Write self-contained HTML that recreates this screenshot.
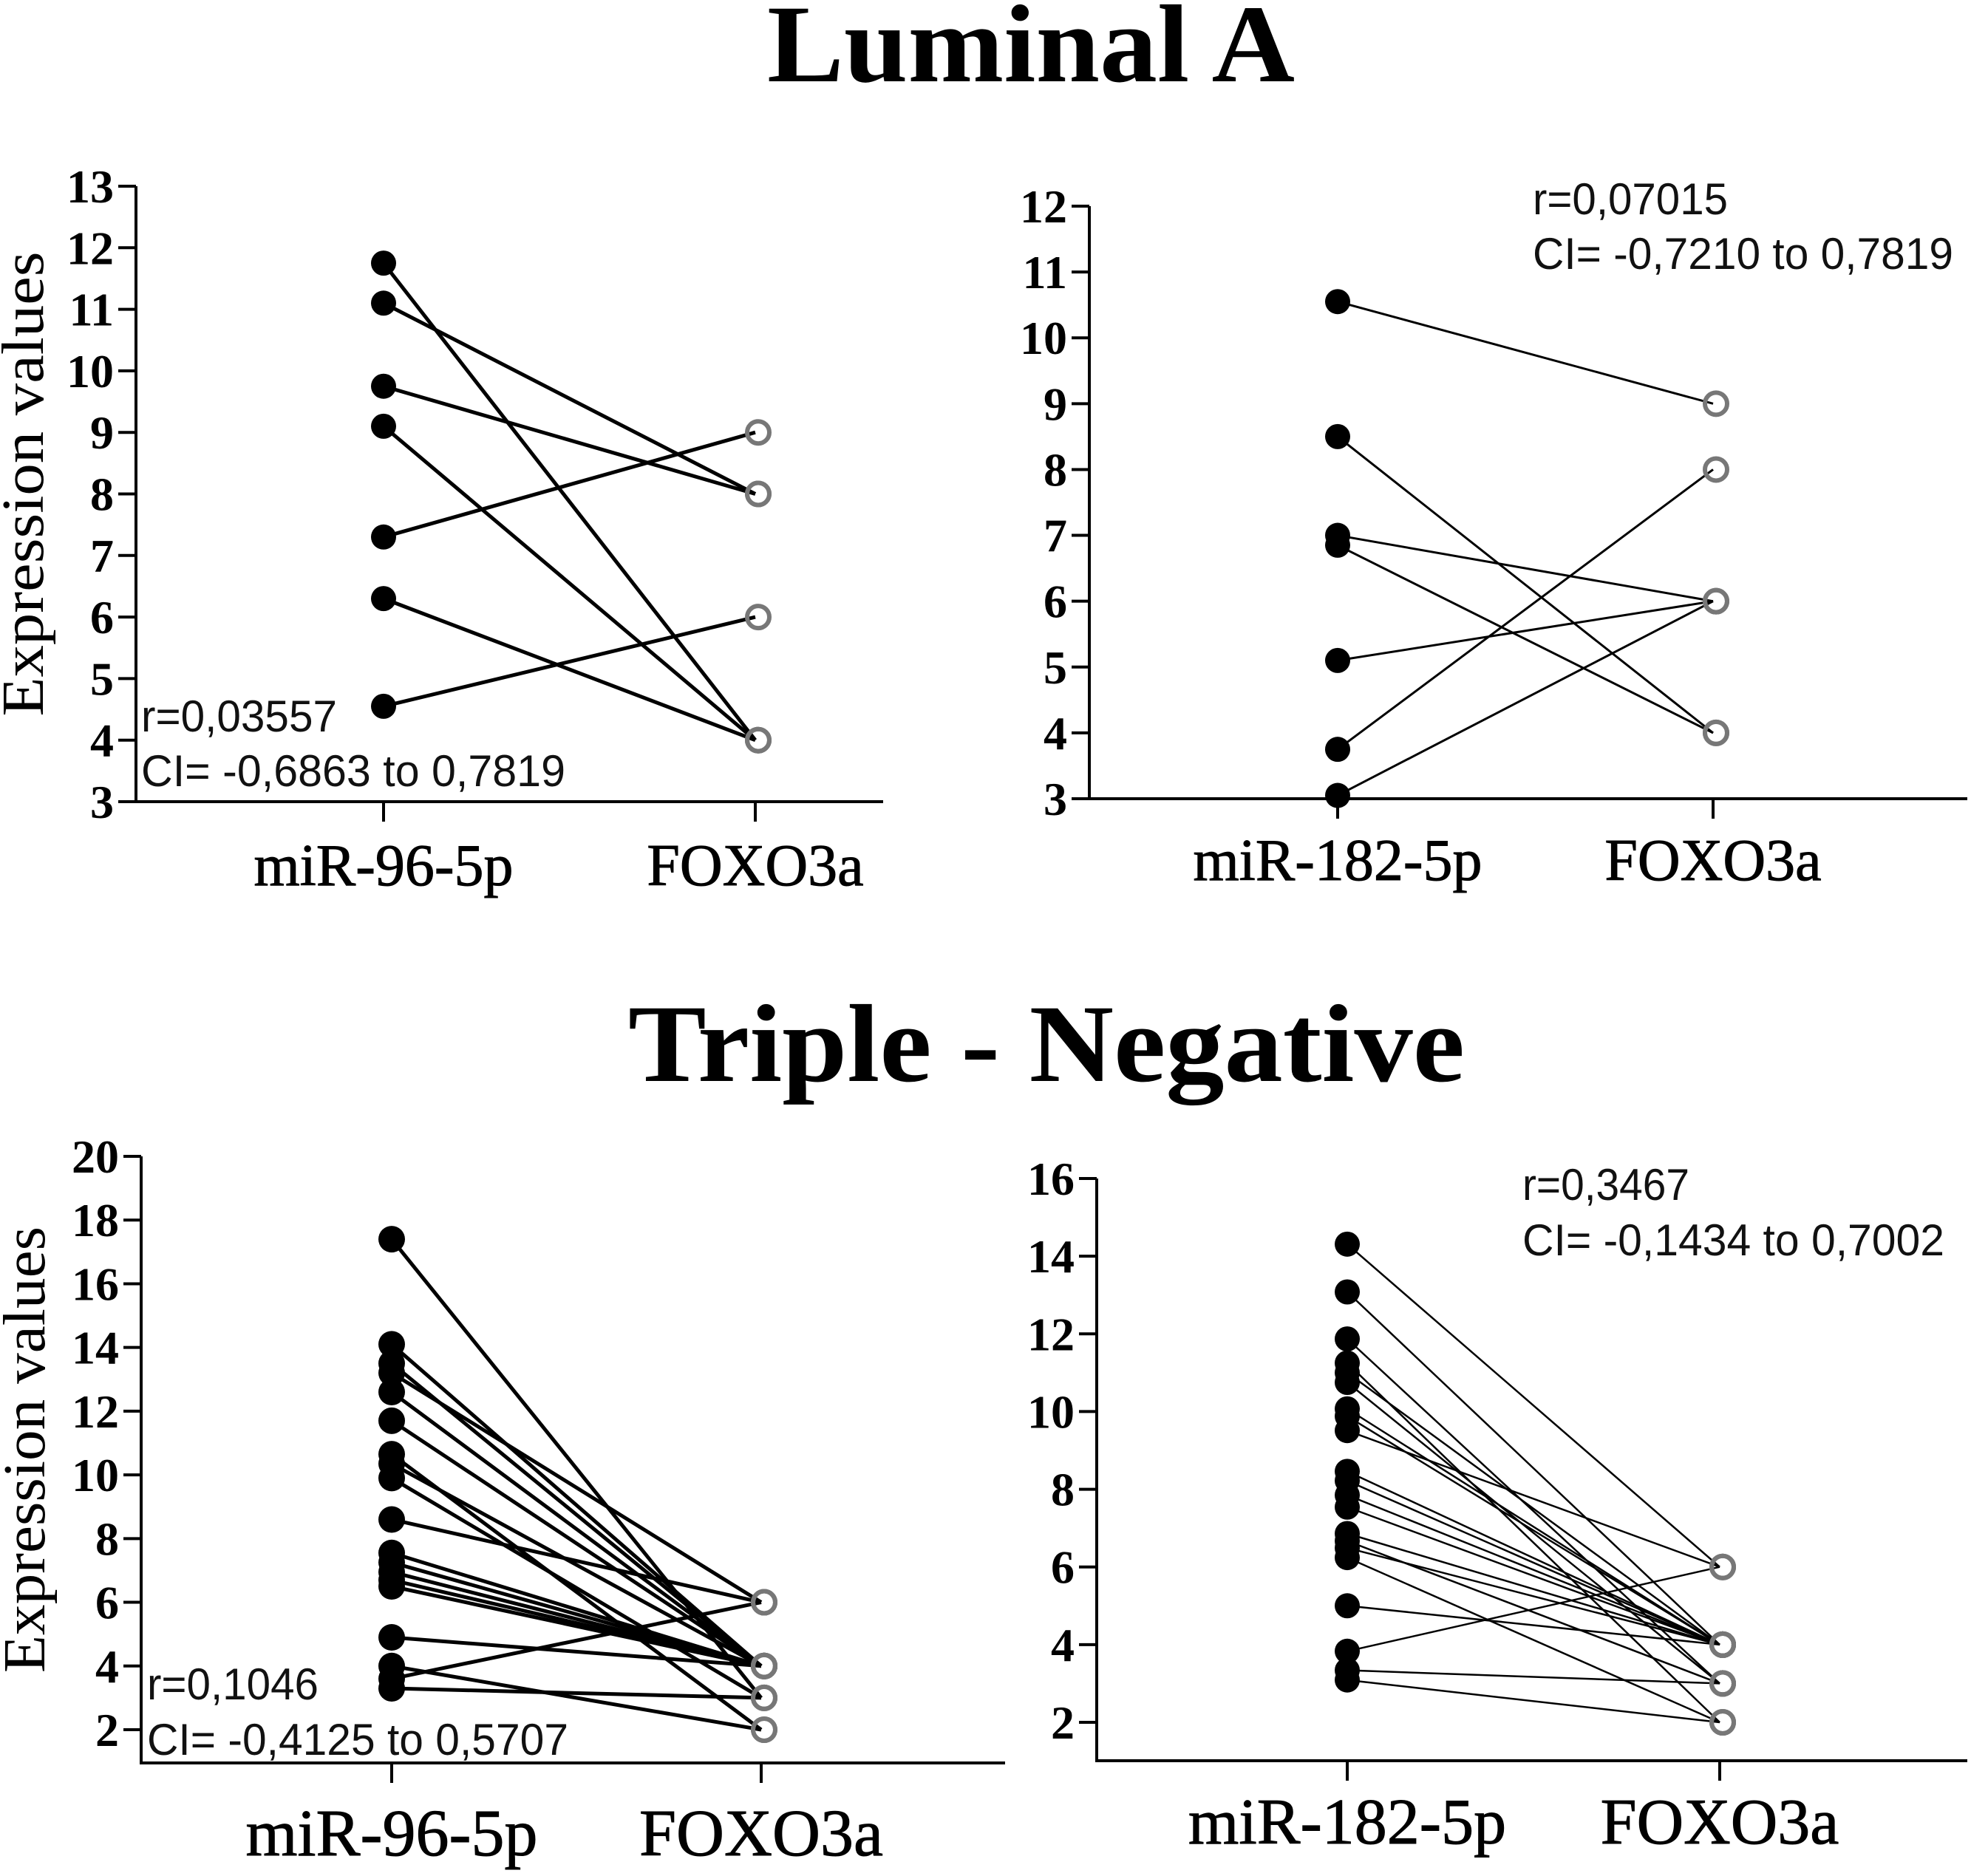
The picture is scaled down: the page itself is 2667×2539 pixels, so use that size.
<!DOCTYPE html>
<html><head><meta charset="utf-8"><title>Luminal A / Triple-Negative</title>
<style>html,body{margin:0;padding:0;background:#fff}svg{display:block}</style></head>
<body>
<svg id="chart" xmlns="http://www.w3.org/2000/svg" width="2667" height="2539" viewBox="0 0 2667 2539">
<rect width="2667" height="2539" fill="#fff"/>
<text x="1395" y="110" text-anchor="middle" font-family="Liberation Serif, serif" font-weight="bold" font-size="150" textLength="714" lengthAdjust="spacingAndGlyphs">Luminal A</text>
<text x="1416" y="1463" text-anchor="middle" font-family="Liberation Serif, serif" font-weight="bold" font-size="150" textLength="1132" lengthAdjust="spacingAndGlyphs">Triple - Negative</text>
</svg>
<script>
// Panel 1: Luminal A, miR-96-5p
const p1Categories = ['miR-96-5p', 'FOXO3a'];
const p1Mir = [11.75, 11.1, 9.75, 9.1, 7.3, 6.3, 4.55];
const p1Foxo = [4, 8, 8, 4, 9, 4, 6];
const p1Ticks = ['3','4','5','6','7','8','9','10','11','12','13'];
const p1Stats = ['r=0,03557', 'CI= -0,6863 to 0,7819'];
// Panel 2: Luminal A, miR-182-5p
const p2Categories = ['miR-182-5p', 'FOXO3a'];
const p2Mir = [10.55, 8.5, 7.0, 6.85, 5.1, 3.75, 3.05];
const p2Foxo = [9, 4, 6, 4, 6, 8, 6];
const p2Ticks = ['3','4','5','6','7','8','9','10','11','12'];
const p2Stats = ['r=0,07015', 'CI= -0,7210 to 0,7819'];
// Panel 3: Triple-negative, miR-96-5p
const p3Categories = ['miR-96-5p', 'FOXO3a'];
const p3Mir = [17.4, 14.1, 13.5, 13.2, 12.6, 11.7, 10.65, 10.35, 9.9, 8.6, 7.55, 7.25, 6.95, 6.7, 6.5, 4.9, 4.0, 3.6, 3.3];
const p3Foxo = [3, 4, 4, 6, 4, 4, 2, 4, 3, 6, 4, 4, 4, 4, 4, 4, 2, 6, 3];
const p3Ticks = ['2','4','6','8','10','12','14','16','18','20'];
const p3Stats = ['r=0,1046', 'CI= -0,4125 to 0,5707'];
// Panel 4: Triple-negative, miR-182-5p
const p4Categories = ['miR-182-5p', 'FOXO3a'];
const p4Mir = [14.31, 13.08, 11.87, 11.25, 11.0, 10.75, 10.07, 9.88, 9.51, 8.46, 8.22, 7.85, 7.54, 6.86, 6.67, 6.49, 6.24, 5.0, 3.83, 3.34, 3.09];
const p4Foxo = [6, 4, 3, 2, 4, 3, 4, 4, 6, 4, 4, 4, 4, 4, 3, 4, 2, 4, 6, 3, 2];
const p4Ticks = ['2','4','6','8','10','12','14','16'];
const p4Stats = ['r=0,3467', 'CI= -0,1434 to 0,7002'];

const NS = 'http://www.w3.org/2000/svg';
const svg = document.getElementById('chart');
function mk(tag, attrs, parent) {
  const e = document.createElementNS(NS, tag);
  for (const k in attrs) e.setAttribute(k, attrs[k]);
  (parent || svg).appendChild(e);
  return e;
}

function panel(id, cfg, cats, mir, foxo, ticks, stats) {
  const g = mk('g', {});
  
  
  const t0 = parseFloat(ticks[0]), t1 = parseFloat(ticks[ticks.length - 1]);
  const y = v => cfg.yBot + (v - t0) * (cfg.yTop - cfg.yBot) / (t1 - t0);
  const xc = [cfg.cx0, cfg.cx1];
  const ya = mk('line', {x1: cfg.ax, y1: cfg.yTop, x2: cfg.ax, y2: cfg.axisY, stroke: '#000', 'stroke-width': 4}, g);
  
  
  const xa = mk('line', {x1: cfg.ax - 2, y1: cfg.axisY, x2: cfg.axEnd, y2: cfg.axisY, stroke: '#000', 'stroke-width': 4}, g);
  
  
  ticks.forEach(t => {
    const v = parseFloat(t);
    const tk = mk('line', {x1: cfg.ax - 24, y1: y(v), x2: cfg.ax, y2: y(v), stroke: '#000', 'stroke-width': 4}, g);
    
    
    const tl = mk('text', {x: cfg.ax - 30, y: y(v) + 22, 'text-anchor': 'end', 'font-family': 'Liberation Serif, serif', 'font-weight': 'bold', 'font-size': 64}, g);
    tl.textContent = t;
    
    
  });
  cats.forEach((c, i) => {
    const tk = mk('line', {x1: xc[i], y1: cfg.axisY, x2: xc[i], y2: cfg.axisY + 27, stroke: '#000', 'stroke-width': 4}, g);
    
    
    const tl = mk('text', {x: xc[i], y: cfg.labY, 'text-anchor': 'middle', 'font-family': 'Liberation Serif, serif', 'font-size': cfg.labFs, stroke: '#000', 'stroke-width': 1}, g);
    tl.textContent = c;
    
    
  });
  if (cfg.title) {
    const yt = mk('text', {x: 0, y: 0, transform: `translate(${cfg.titleX},${cfg.titleY}) rotate(-90)`, 'text-anchor': 'middle', 'font-family': 'Liberation Serif, serif', 'font-size': 80, textLength: cfg.titleLen, lengthAdjust: 'spacingAndGlyphs'}, g);
    yt.textContent = 'Expression values';
    
    
  }
  mir.forEach((v, i) => {
    const l = mk('line', {x1: xc[0], y1: y(v), x2: xc[1], y2: y(foxo[i]), stroke: '#000', 'stroke-width': cfg.lw}, g);
    
    
  });
  mir.forEach(v => {
    const c = mk('circle', {cx: xc[0], cy: y(v), r: cfg.r, fill: '#000'}, g);
    
    
  });
  foxo.forEach(v => {
    const c = mk('circle', {cx: xc[1] + 4, cy: y(v), r: 15, fill: 'none', stroke: '#777', 'stroke-width': 6}, g);
    
    
  });
  stats.forEach((s, i) => {
    const t = mk('text', {x: cfg.sx, y: cfg.sy[i], 'font-family': 'Liberation Sans, sans-serif', 'font-size': 60, textLength: i ? cfg.ciLen : cfg.rLen, lengthAdjust: 'spacingAndGlyphs', fill: '#111'}, g);
    t.textContent = s;
    
    
  });
}

panel('panel-luminal-mir96', {ax: 184, axEnd: 1195, yTop: 252, yBot: 1085, axisY: 1085, cx0: 519, cx1: 1022, labY: 1198, labFs: 80, title: true, titleX: 58, titleY: 655, titleLen: 629, lw: 5, r: 17, sx: 191, sy: [990, 1064], rLen: 265, ciLen: 574}, p1Categories, p1Mir, p1Foxo, p1Ticks, p1Stats);
panel('panel-luminal-mir182', {ax: 1474, axEnd: 2662, yTop: 279, yBot: 1081, axisY: 1081, cx0: 1810, cx1: 2318, labY: 1191, labFs: 80, title: false, lw: 3, r: 17, sx: 2074, sy: [290, 364], rLen: 264, ciLen: 569}, p2Categories, p2Mir, p2Foxo, p2Ticks, p2Stats);
panel('panel-tn-mir96', {ax: 191, axEnd: 1360, yTop: 1565, yBot: 2341, axisY: 2386, cx0: 530, cx1: 1030, labY: 2511, labFs: 90, title: true, titleX: 60, titleY: 1962, titleLen: 604, lw: 5, r: 18, sx: 199, sy: [2300, 2375], rLen: 232, ciLen: 570}, p3Categories, p3Mir, p3Foxo, p3Ticks, p3Stats);
panel('panel-tn-mir182', {ax: 1484, axEnd: 2662, yTop: 1595, yBot: 2331, axisY: 2383, cx0: 1823, cx1: 2327, labY: 2495, labFs: 88, title: false, lw: 2.5, r: 17, sx: 2060, sy: [1624, 1699], rLen: 226, ciLen: 571}, p4Categories, p4Mir, p4Foxo, p4Ticks, p4Stats);
</script>
</body></html>
